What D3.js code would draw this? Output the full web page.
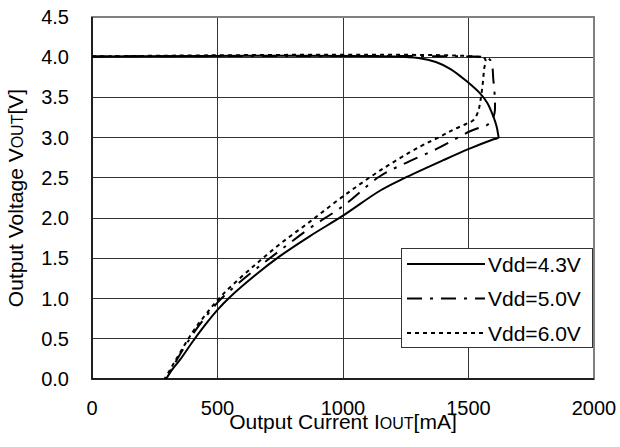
<!DOCTYPE html>
<html>
<head>
<meta charset="utf-8">
<script src="https://cdn.jsdelivr.net/npm/d3@7"></script>
<style>
  html, body { margin: 0; padding: 0; background: #fff; }
  svg { display: block; font-family: "Liberation Sans", Arial, sans-serif; }
</style>
</head>
<body>
<div id="chart"></div>
<script>
// Output current [mA] / output voltage [V]
const vdd43 = [
  [0, 4.01], [1200, 4.01], [1300, 3.99], [1370, 3.94], [1430, 3.85], [1493, 3.70],
  [1546, 3.55], [1575, 3.43], [1598, 3.27], [1612, 3.14], [1618, 3.04], [1619, 3.0],
  [1600, 2.98], [1502, 2.86], [1400, 2.72], [1240, 2.49], [1147, 2.34], [1000, 2.03],
  [870, 1.78], [750, 1.53], [650, 1.29], [550, 1.02], [500, 0.86], [450, 0.67],
  [400, 0.46], [351, 0.24], [320, 0.12], [295, 0]
];
const vdd50 = [
  [0, 4.01], [1480, 4.01], [1560, 4.0], [1588, 3.96], [1599, 3.72], [1605, 3.47],
  [1604, 3.31], [1590, 3.20], [1570, 3.15], [1540, 3.12], [1506, 3.08], [1446, 2.98],
  [1373, 2.86], [1260, 2.70], [1147, 2.52], [1000, 2.15], [870, 1.88], [750, 1.60],
  [650, 1.36], [550, 1.10], [500, 0.95], [450, 0.76], [400, 0.55], [340, 0.25],
  [315, 0.11], [293, 0]
];
const vdd60 = [
  [0, 4.01], [1520, 4.01], [1566, 3.98], [1562, 3.85], [1556, 3.65], [1547, 3.45],
  [1538, 3.32], [1520, 3.22], [1490, 3.17], [1440, 3.10], [1386, 3.01], [1307, 2.89],
  [1147, 2.59], [1000, 2.27], [870, 1.96], [750, 1.68], [650, 1.42], [550, 1.14],
  [500, 0.98], [450, 0.79], [400, 0.58], [340, 0.27], [312, 0.12], [289, 0]
];
const seriesNames = ["Vdd=4.3V", "Vdd=5.0V", "Vdd=6.0V"];
const xTicks = [0, 500, 1000, 1500, 2000];
const yTicks = [0, 0.5, 1.0, 1.5, 2.0, 2.5, 3.0, 3.5, 4.0, 4.5];

const width = 620, height = 447;
const plot = { left: 92, right: 594, top: 17, bottom: 379 };

const x = d3.scaleLinear().domain([0, 2000]).range([plot.left, plot.right]);
const y = d3.scaleLinear().domain([0, 4.5]).range([plot.bottom, plot.top]);

const series = [
  { name: seriesNames[0], data: vdd43, dash: null },
  { name: seriesNames[1], data: vdd50, dash: "15,8,3,8" },
  { name: seriesNames[2], data: vdd60, dash: "4,4" }
];

const svg = d3.select("#chart").append("svg")
  .attr("width", width).attr("height", height)
  .attr("viewBox", `0 0 ${width} ${height}`);

// grid
const grid = svg.append("g").attr("shape-rendering", "crispEdges");
grid.selectAll("line.h")
  .data(yTicks.slice(1, -1))
  .join("line")
  .attr("class", "h")
  .attr("x1", plot.left).attr("x2", plot.right)
  .attr("y1", (d) => y(d)).attr("y2", (d) => y(d))
  .attr("stroke", "#333").attr("stroke-width", 1);
grid.selectAll("line.v")
  .data(xTicks.slice(1, -1))
  .join("line")
  .attr("class", "v")
  .attr("y1", plot.top).attr("y2", plot.bottom)
  .attr("x1", (d) => x(d)).attr("x2", (d) => x(d))
  .attr("stroke", "#333").attr("stroke-width", 1);

// plot frame
svg.append("rect")
  .attr("x", plot.left).attr("y", plot.top)
  .attr("width", plot.right - plot.left).attr("height", plot.bottom - plot.top)
  .attr("fill", "none").attr("stroke", "#808080").attr("stroke-width", 2);
svg.append("path")
  .attr("d", `M${plot.left},${plot.top}V${plot.bottom}H${plot.right}`)
  .attr("fill", "none").attr("stroke", "#000").attr("stroke-width", 1.5);

// tick labels
svg.append("g").selectAll("text")
  .data(yTicks)
  .join("text")
  .attr("x", 69).attr("y", (d) => y(d) + 7)
  .attr("text-anchor", "end")
  .style("font-size", "20px")
  .text((d) => d.toFixed(1));
svg.append("g").selectAll("text")
  .data(xTicks)
  .join("text")
  .attr("x", (d) => x(d)).attr("y", 415)
  .attr("text-anchor", "middle")
  .style("font-size", "20px")
  .text((d) => d);

// axis titles
const xt = svg.append("text")
  .attr("x", 343).attr("y", 429)
  .attr("text-anchor", "middle")
  .style("font-size", "21px");
xt.append("tspan").text("Output Current I");
xt.append("tspan").style("font-size", "16px").text("OUT");
xt.append("tspan").text("[mA]");

const yt = svg.append("text")
  .attr("transform", "translate(23,198) rotate(-90)")
  .attr("text-anchor", "middle")
  .style("font-size", "21px");
yt.append("tspan").text("Output Voltage V");
yt.append("tspan").style("font-size", "16px").text("OUT");
yt.append("tspan").text("[V]");

// curves
const line = d3.line()
  .x((d) => x(d[0])).y((d) => y(d[1]))
  .curve(d3.curveCatmullRom.alpha(0.5));
svg.append("g").selectAll("path")
  .data(series)
  .join("path")
  .attr("d", (d) => line(d.data))
  .attr("fill", "none")
  .attr("stroke", "#000")
  .attr("stroke-width", 2)
  .attr("stroke-linejoin", "round")
  .attr("stroke-dasharray", (d) => d.dash);

// legend
const lg = svg.append("g").attr("transform", "translate(401,248)");
lg.append("rect")
  .attr("width", 191).attr("height", 99)
  .attr("fill", "#fff").attr("stroke", "#333").attr("stroke-width", 1)
  .attr("shape-rendering", "crispEdges");
series.forEach((s, i) => {
  const cy = 16 + i * 34.5;
  lg.append("line")
    .attr("x1", 6).attr("x2", 84)
    .attr("y1", cy).attr("y2", cy)
    .attr("stroke", "#000").attr("stroke-width", 2)
    .attr("stroke-dasharray", s.dash);
  lg.append("text")
    .attr("x", 87).attr("y", cy + 7.5)
    .style("font-size", "21px")
    .text(s.name);
});
</script>
</body>
</html>
